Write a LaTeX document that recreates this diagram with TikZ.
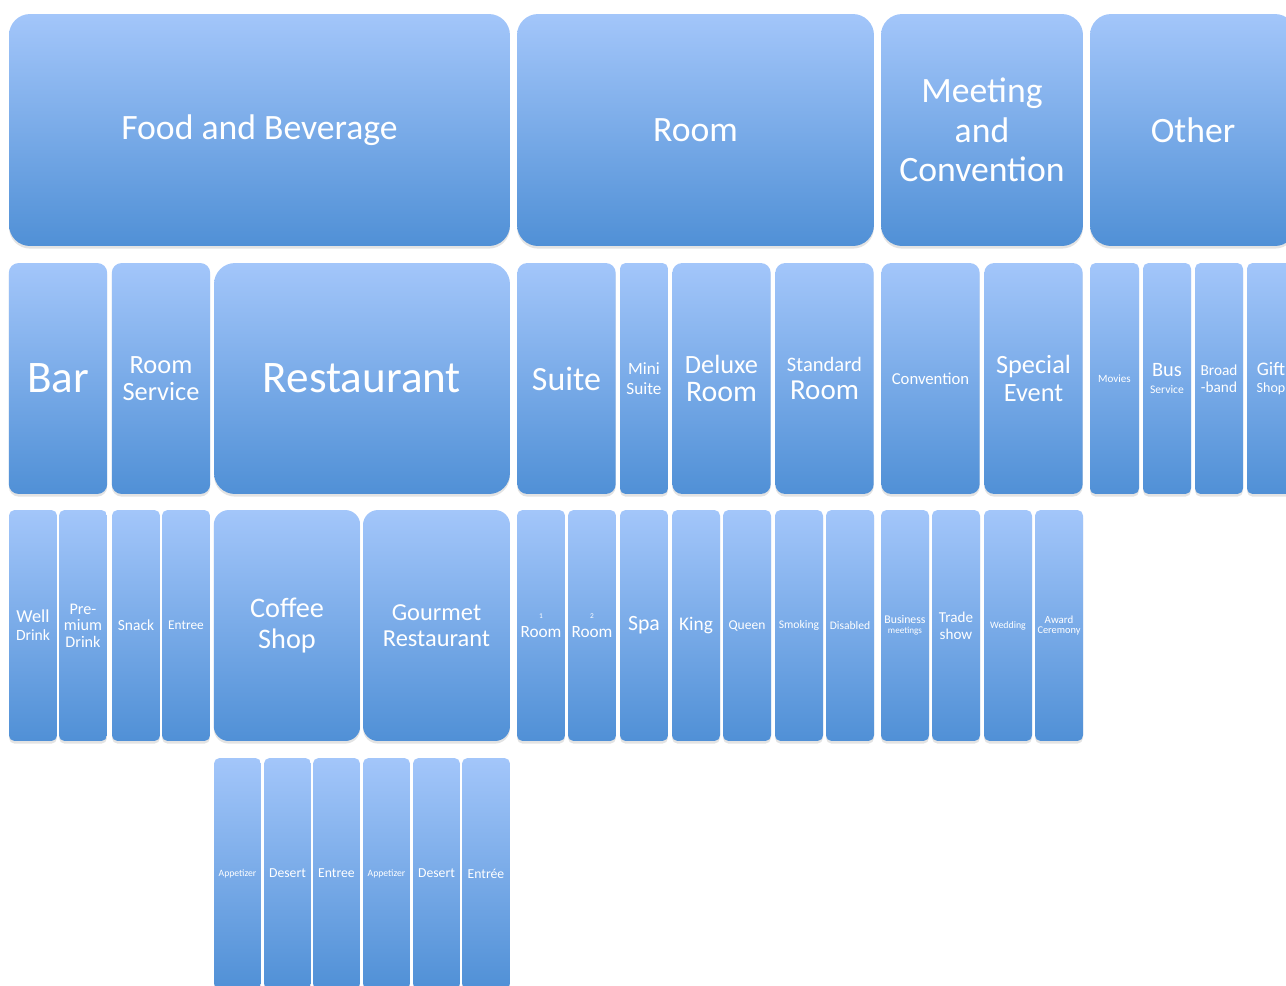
\documentclass[tikz,border=0pt]{standalone}
\usepackage{fontspec}
\setmainfont{Carlito}
\usetikzlibrary{shadows}
\usepackage{xcolor}
\definecolor{tiletop}{RGB}{163,198,250}
\definecolor{tilebot}{RGB}{80,144,214}

\begin{document}
\begin{tikzpicture}[x=0.02cm, y=-0.02cm]
	\tikzstyle{tile} = [rectangle, draw=none, top color=tiletop, bottom color=tilebot, text=white, align=center, inner sep=0pt, minimum height=4.62cm, drop shadow={opacity=0.22, shadow xshift=0pt, shadow yshift=-1.5pt}]
	\tikzstyle{big}  = [tile, rounded corners=0.42cm]
	\tikzstyle{wide} = [tile, rounded corners=0.3cm, minimum width=2.93cm]
	\tikzstyle{mid}  = [tile, rounded corners=0.2cm, minimum width=1.97cm]
	\tikzstyle{slim} = [tile, rounded corners=0.11cm, minimum width=0.96cm]
	
	\clip (0,0) rectangle (1286,985);
	
	% top level
	\node[big, minimum width=10.02cm, minimum height=4.64cm, font=\fontsize{20.3}{23}\selectfont] at (259.5,130) (fb)    {Food and Beverage};
	\node[big, minimum width=7.14cm,  minimum height=4.64cm, font=\fontsize{20.3}{23}\selectfont] at (695.5,130) (room)  {Room};
	\node[big, minimum width=4.04cm,  minimum height=4.64cm, font=\fontsize{20.3}{22.5}\selectfont] at (982,130) (meet)  {Meeting\\and\\Convention};
	\node[big, minimum width=4.12cm,  minimum height=4.64cm, font=\fontsize{20.3}{23}\selectfont] at (1193,130) (other) {Other};
	
	% second level
	\node[mid, font=\fontsize{25.7}{27}\selectfont]   at (58,378.5)   (bar)   {Bar};
	\node[mid, font=\fontsize{15}{15.5}\selectfont]   at (161,378.5)  (rsrv)  {Room\\Service};
	\node[big, minimum width=5.92cm, font=\fontsize{25.7}{27}\selectfont] at (362,378.5) (rest) {Restaurant};
	\node[mid, font=\fontsize{19.3}{20}\selectfont]   at (566.5,378.5) (suite) {Suite};
	\node[slim, font=\fontsize{9.8}{11.3}\selectfont] at (644,378.5)  (mini)  {Mini\\Suite};
	\node[mid, font=\fontsize{15}{16.4}\selectfont]   at (721.5,378.5) (dlx)  {Deluxe\\\fontsize{17}{16.4}\selectfont Room};
	\node[mid, font=\fontsize{11.7}{15.8}\selectfont] at (824.5,378.5) (std)  {Standard\\\fontsize{16.5}{15.8}\selectfont Room};
	\node[mid, font=\fontsize{9.5}{11}\selectfont]    at (930.5,378.5) (conv) {Convention};
	\node[mid, font=\fontsize{15}{15.9}\selectfont]   at (1033.5,378.5) (spev) {Special\\Event};
	\node[slim, minimum width=0.98cm, font=\fontsize{6.3}{7}\selectfont] at (1114.5,378.5) (movie) {Movies};
	\node[slim, font=\fontsize{11.6}{9.6}\selectfont] at (1167,378.5)  (bus)   {Bus\\\fontsize{6.6}{9.6}\selectfont Service};
	\node[slim, font=\fontsize{8.7}{9.6}\selectfont]  at (1219,378.5)  (bband) {Broad\\-band};
	\node[slim, font=\fontsize{10.9}{10}\selectfont]  at (1271,378.5)  (gift)  {Gift\\\fontsize{8}{10}\selectfont Shop};
	
	% third level
	\node[slim, font=\fontsize{10.4}{10.2}\selectfont] at (33,625.5)  (well)  {Well\\\fontsize{8.9}{10.2}\selectfont Drink};
	\node[slim, font=\fontsize{9.2}{9.4}\selectfont]   at (83,625.5)  (prem)  {Pre-\\mium\\Drink};
	\node[slim, font=\fontsize{8.8}{10}\selectfont]    at (136,625.5) (snack) {Snack};
	\node[slim, font=\fontsize{7.6}{9}\selectfont]     at (186,625.5) (entr)  {Entree};
	\node[wide, font=\fontsize{16.1}{17.6}\selectfont] at (287,625.5) (cafe)  {Coffee\\Shop};
	\node[wide, minimum width=2.94cm, font=\fontsize{13.9}{14.7}\selectfont] at (436.5,625.5) (gourm) {Gourmet\\Restaurant};
	\node[slim, font=\fontsize{4.2}{10.8}\selectfont]  at (541,625.5) (rmone) {1\\\fontsize{9.8}{10.8}\selectfont Room};
	\node[slim, font=\fontsize{4.2}{10.8}\selectfont]  at (592,625.5) (rmtwo) {2\\\fontsize{9.8}{10.8}\selectfont Room};
	\node[slim, font=\fontsize{12.4}{13}\selectfont]   at (644,625.5) (spa)   {Spa};
	\node[slim, font=\fontsize{11}{12}\selectfont]     at (696,625.5) (king)  {King};
	\node[slim, font=\fontsize{7.7}{9}\selectfont]     at (747,625.5) (queen) {Queen};
	\node[slim, font=\fontsize{6.6}{8}\selectfont]     at (799,625.5) (smok)  {Smoking};
	\node[slim, font=\fontsize{6.6}{8}\selectfont]     at (850,625.5) (dis)   {Disabled};
	\node[slim, font=\fontsize{6.7}{5.7}\selectfont]   at (905,625.5) (biz)   {Business\\\fontsize{5.2}{5.7}\selectfont meetings};
	\node[slim, font=\fontsize{8.6}{9.6}\selectfont]   at (956,625.5) (trade) {Trade\\show};
	\node[slim, font=\fontsize{5.6}{7}\selectfont]     at (1008,625.5) (wed)  {Wedding};
	\node[slim, font=\fontsize{6.2}{6.2}\selectfont]   at (1059,625.5) (award) {Award\\\fontsize{5.9}{6.2}\selectfont Ceremony};
	
	% fourth level
	\node[slim, minimum width=0.94cm, font=\fontsize{5.5}{7}\selectfont] at (237.5,873.5) (appone) {Appetizer};
	\node[slim, minimum width=0.94cm, font=\fontsize{7.8}{9}\selectfont] at (287.5,873.5) (desone) {Desert};
	\node[slim, minimum width=0.94cm, font=\fontsize{7.8}{9}\selectfont] at (336.5,873.5) (entone) {Entree};
	\node[slim, minimum width=0.94cm, font=\fontsize{5.5}{7}\selectfont] at (386.5,873.5) (apptwo) {Appetizer};
	\node[slim, minimum width=0.94cm, font=\fontsize{7.8}{9}\selectfont] at (436.5,873.5) (destwo) {Desert};
	\node[slim, font=\fontsize{7.8}{9}\selectfont] at (486,873.5) (enttwo) {Entrée};
\end{tikzpicture}
\end{document}
